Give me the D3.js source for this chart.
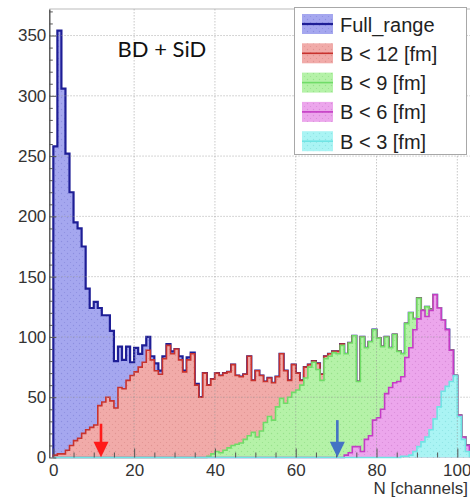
<!DOCTYPE html>
<html><head><meta charset="utf-8">
<script src="https://cdn.jsdelivr.net/npm/d3@7"></script>
<style>body{margin:0;background:#fff}svg{display:block;font-family:"Liberation Sans",Arial,sans-serif}</style>
</head><body>
<svg id="c" width="470" height="500"></svg>
<script>
// ---- data (counts per channel bin, bin i covers [i, i+1)) ----
const fullRange = [258,354,306,252,220,195,190,175,140,124,
 129,124,118,118,105,80,92,81,92,79,
 91,86,93,100,84,78,72,84,94,88,
 90,84,72,83,87,61,50,70,60,65,
 70,68,70,71,77,68,67,69,84,64,
 72,68,63,66,62,67,86,72,64,77,
 70,64,75,77,80,78,69,84,86,88,
 88,94,86,95,101,63,100,91,96,106,
 99,92,100,91,102,88,86,111,120,115,
 132,122,125,123,135,124,114,106,89,68,
 35,17,10,2];
const bLt12 = [2,3,3,6,10,14,16,20,23,25,
 27,43,46,50,47,41,58,57,64,68,
 71,75,79,89,81,72,69,82,93,86,
 90,81,71,81,86,60,50,70,60,65,
 70,68,70,71,77,68,67,69,84,64,
 72,68,63,66,62,67,86,72,64,77,
 70,64,75,77,80,78,69,84,86,88,
 88,94,86,95,101,63,100,91,96,106,
 99,92,100,91,102,88,86,111,120,115,
 132,122,125,123,135,124,114,106,89,68,
 35,17,10,2];
const bLt9 = [0,0,0,0,0,0,0,0,0,0,
 0,0,0,0,0,0,0,0,0,0,
 0,0,0,0,0,0,0,0,0,0,
 0,0,0,0,0,0,0,0,1,3,
 5,4,6,8,10,11,12,15,18,21,
 17,22,29,34,31,42,49,45,50,54,
 56,60,66,75,79,73,64,82,84,87,
 86,93,86,95,101,63,100,91,96,106,
 99,92,100,91,102,88,86,111,120,115,
 132,122,125,123,135,124,114,106,89,68,
 35,17,10,2];
const bLt6 = [0,0,0,0,0,0,0,0,0,0,
 0,0,0,0,0,0,0,0,0,0,
 0,0,0,0,0,0,0,0,0,0,
 0,0,0,0,0,0,0,0,0,0,
 0,0,0,0,0,0,0,0,0,0,
 0,0,0,0,0,0,0,0,0,0,
 0,0,0,0,0,0,0,0,0,0,
 0,0,2,4,9,9,5,15,18,31,
 33,40,53,58,62,63,67,83,91,106,
 115,122,117,122,135,124,114,106,89,68,
 35,17,10,2];
const bLt3 = [0,0,0,0,0,0,0,0,0,0,
 0,0,0,0,0,0,0,0,0,0,
 0,0,0,0,0,0,0,0,0,0,
 0,0,0,0,0,0,0,0,0,0,
 0,0,0,0,0,0,0,0,0,0,
 0,0,0,0,0,0,0,0,0,0,
 0,0,0,0,0,0,0,0,0,0,
 0,0,0,0,0,0,0,0,0,0,
 0,0,0,0,0,0,1,1,2,5,
 9,13,17,23,32,42,55,59,63,68,
 34,15,5,1];
const legendLabels = ["Full_range","B < 12 [fm]","B < 9 [fm]","B < 6 [fm]","B < 3 [fm]"];
const xTicks = [0,20,40,60,80,100];
const yTicks = [0,50,100,150,200,250,300,350];
const xTitle = "N [channels]";
const annotation = "BD + SiD";
const arrowN = [11.8, 70.3];
const arrowTop = [28, 31];

// ---- styles ----
const series = [
  {vals: fullRange, fill:"#a5a7ef", dot:"#8c8ee0", line:"#1e1e96", lw:2.2},
  {vals: bLt12,    fill:"#f1aba9", dot:"#e09492", line:"#c8322e", lw:1.6},
  {vals: bLt9,     fill:"#b5f2a8", dot:"#98e28c", line:"#70dc68", lw:1.6},
  {vals: bLt6,     fill:"#eca6ec", dot:"#d98cd9", line:"#c43cc4", lw:1.6},
  {vals: bLt3,     fill:"#aaf4f4", dot:"#8ee4e4", line:"#70e4e4", lw:1.6}
];
const arrowColors = ["#ff1a1a","#4472c4"];

const svg = d3.select("#c");
const x = d3.scaleLinear().domain([-1, 104.6]).range([49.3, 475.9]);
const y = d3.scaleLinear().domain([0, 372]).range([457.5, 9]);

const defs = svg.append("defs");
defs.append("clipPath").attr("id","plot").append("rect")
  .attr("x", x(-1)).attr("y", y(372)).attr("width", x(104.6)-x(-1)).attr("height", y(0)-y(372)+2);
series.forEach((s,i)=>{
  const p = defs.append("pattern").attr("id","pat"+i).attr("patternUnits","userSpaceOnUse")
    .attr("width",6).attr("height",6);
  p.append("rect").attr("width",6).attr("height",6).attr("fill",s.fill);
  p.append("circle").attr("cx",1.5).attr("cy",1.5).attr("r",0.7).attr("fill",s.dot);
  p.append("circle").attr("cx",4.5).attr("cy",4.5).attr("r",0.6).attr("fill",s.dot);
});

// frame
svg.append("line").attr("x1",x(-1)).attr("x2",470).attr("y1",y(372)).attr("y2",y(372)).attr("stroke","#bbb");

const g = svg.append("g").attr("clip-path","url(#plot)");
function pts(vals){
  const p=[[0,0]];
  vals.forEach((v,i)=>{p.push([i,v],[i+1,v]);});
  p.push([vals.length,0]);
  return p;
}
const area = d3.area().x(d=>x(d[0])).y0(y(0)).y1(d=>y(d[1]));
const line = d3.line().x(d=>x(d[0])).y(d=>y(d[1]));
series.forEach((s,i)=>{
  const p = pts(s.vals);
  g.append("path").attr("d",area(p)).attr("fill","url(#pat"+i+")");
  g.append("path").attr("d",line(p)).attr("fill","none").attr("stroke",s.line).attr("stroke-width",s.lw);
});

// grid on top of fills
const grid = svg.append("g").attr("stroke","#9a9a9a").attr("stroke-opacity",0.55).attr("stroke-dasharray","1.5,1.5");
xTicks.filter(t=>t>0).forEach(t=>grid.append("line").attr("x1",x(t)).attr("x2",x(t)).attr("y1",y(0)).attr("y2",y(372)));
yTicks.filter(t=>t>0).forEach(t=>grid.append("line").attr("x1",x(-1)).attr("x2",470).attr("y1",y(t)).attr("y2",y(t)));

// axes
const yAx = svg.append("g").attr("transform",`translate(${x(-1)},0)`)
  .call(d3.axisLeft(y).tickValues(yTicks).tickSizeInner(-7).tickSizeOuter(0).tickPadding(3));
const yMin = svg.append("g").attr("transform",`translate(${x(-1)},0)`)
  .call(d3.axisLeft(y).tickValues(d3.range(10,371,10).filter(v=>v%50)).tickSize(-3.5).tickFormat(""));
const xAx = svg.append("g").attr("transform",`translate(0,${y(0)})`)
  .call(d3.axisBottom(x).tickValues(xTicks).tickSizeInner(-9).tickSizeOuter(0).tickPadding(6));
const xMin = svg.append("g").attr("transform",`translate(0,${y(0)})`)
  .call(d3.axisBottom(x).tickValues(d3.range(5,104,5).filter(v=>v%20)).tickSize(-5).tickFormat(""));
[xAx,xMin].forEach(a=>a.select(".domain").remove());
yMin.select(".domain").remove();
yAx.select(".domain").attr("stroke","#444").attr("stroke-width",1.3);
svg.selectAll(".tick line").attr("stroke","#555");
svg.selectAll(".tick text").attr("font-size",17).attr("fill","#333").attr("font-family","Liberation Sans, Arial, sans-serif");
// keep the last x label inside the picture
xAx.selectAll(".tick text").filter(d=>d===100).attr("text-anchor","end").attr("dx","0.8em");

svg.append("text").attr("x",468).attr("y",494).attr("text-anchor","end")
  .attr("font-size",17).attr("fill","#333").text(xTitle);

// annotation text
svg.append("text").attr("x",x(15.9)).attr("y",y(332.5)).attr("font-size",22)
  .attr("font-family","Lato, 'Open Sans', sans-serif").attr("fill","#111").text(annotation);

// arrows
arrowN.forEach((n,i)=>{
  const cx = x(n);
  svg.append("line").attr("x1",cx).attr("x2",cx).attr("y1",y(arrowTop[i])).attr("y2",y(12))
    .attr("stroke",arrowColors[i]).attr("stroke-width",2.6);
  svg.append("path").attr("d",`M${cx-7.5},${y(13)}L${cx+7.5},${y(13)}L${cx},${y(0.2)}Z`)
    .attr("fill",arrowColors[i]);
});

// legend
const lg = svg.append("g");
lg.append("rect").attr("x",294.5).attr("y",7.5).attr("width",172).attr("height",147)
  .attr("fill","#fff").attr("stroke","#a8a8a8");
legendLabels.forEach((lab,i)=>{
  const cy = 24 + i*29.3;
  lg.append("rect").attr("x",302).attr("y",cy-10).attr("width",31).attr("height",20).attr("fill","url(#pat"+i+")");
  lg.append("line").attr("x1",302).attr("x2",333).attr("y1",cy).attr("y2",cy)
    .attr("stroke",series[i].line).attr("stroke-width",series[i].lw);
  lg.append("text").attr("x",340).attr("y",cy+7.5).attr("font-size",20).attr("fill","#222").text(lab);
});
</script>
</body></html>
